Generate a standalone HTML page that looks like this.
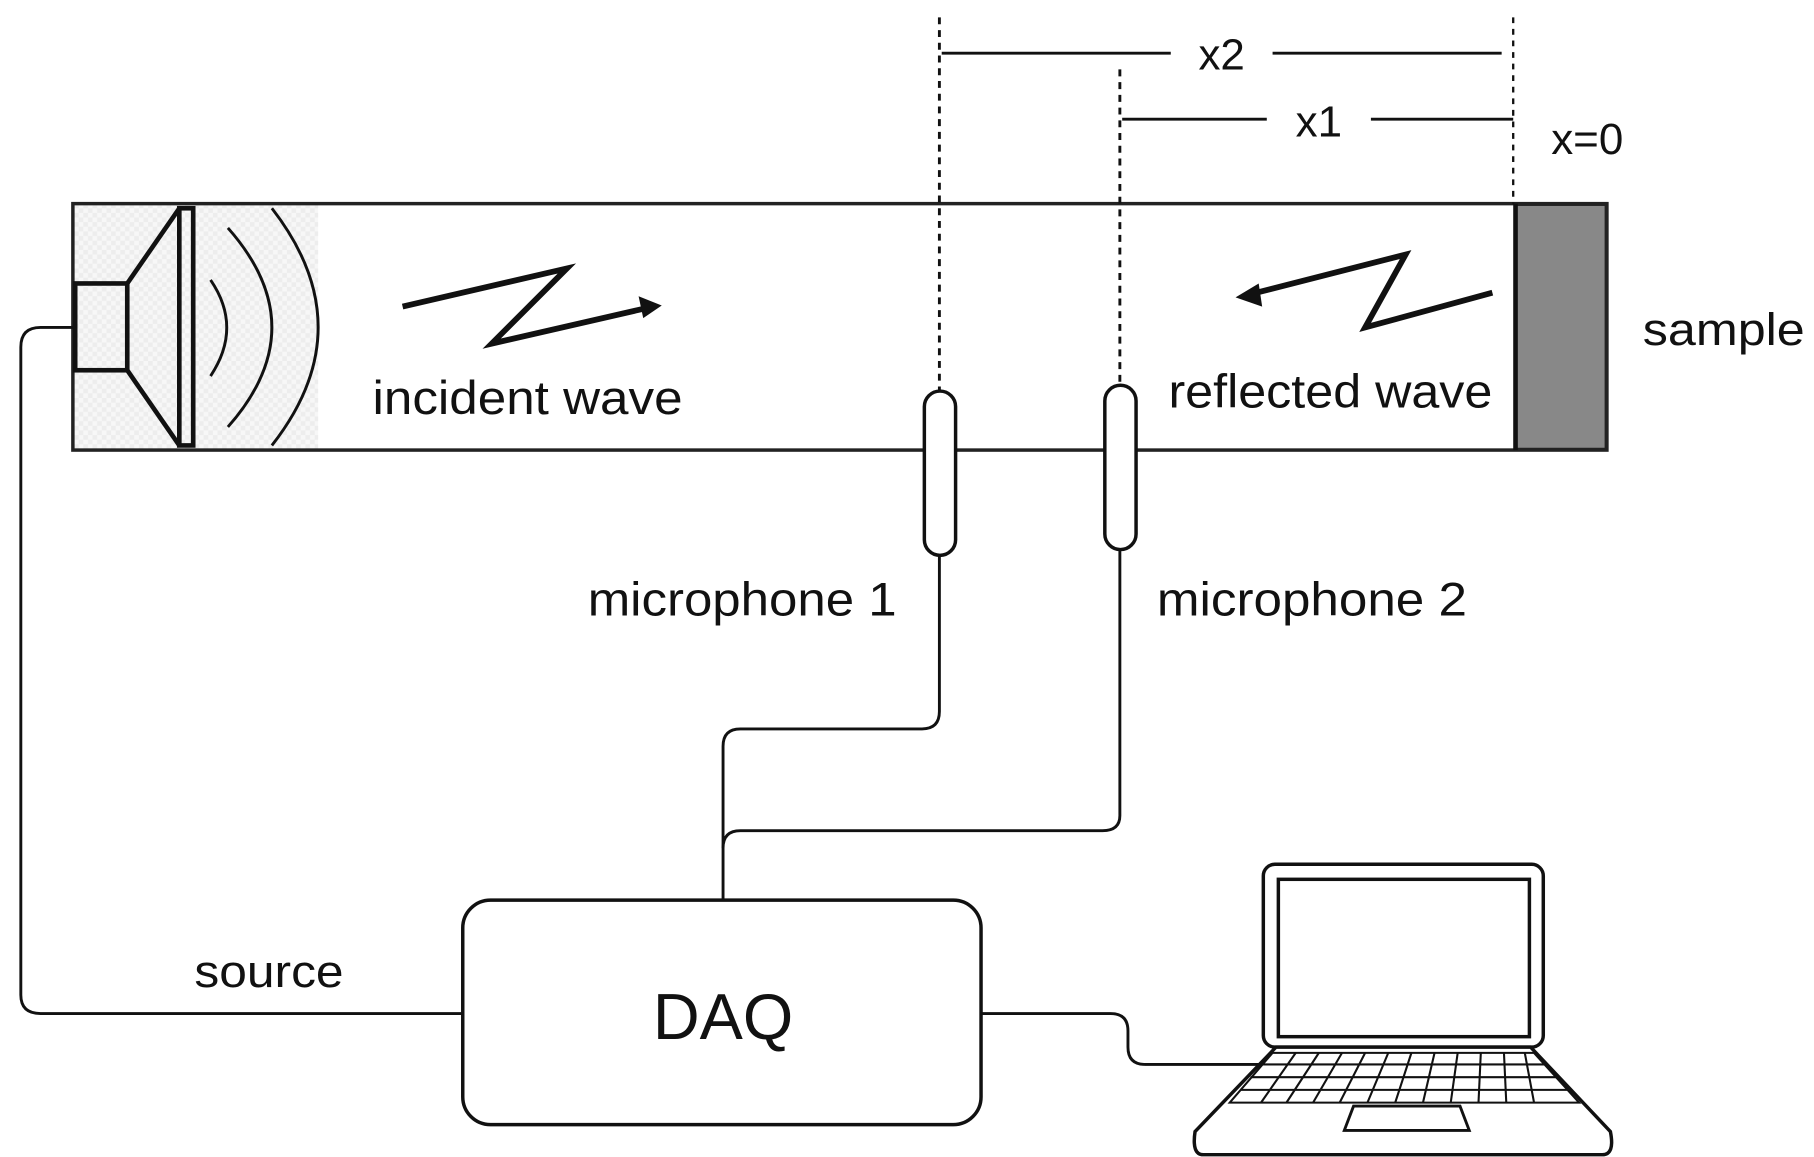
<!DOCTYPE html>
<html><head><meta charset="utf-8"><style>
html,body{margin:0;padding:0;background:#fff;}
svg{display:block;}
text{font-family:"Liberation Sans",sans-serif;fill:#111;}
</style></head><body>
<svg width="1814" height="1157" viewBox="0 0 1568 1000" preserveAspectRatio="none">
<defs>
<pattern id="chk" width="8" height="8" patternUnits="userSpaceOnUse">
<rect width="8" height="8" fill="#f7f7f7"/><rect width="4" height="4" fill="#ededed"/><rect x="4" y="4" width="4" height="4" fill="#ededed"/>
</pattern>
</defs>
<rect width="1568" height="1000" fill="#fff"/>
<rect x="64" y="177" width="211" height="211" fill="url(#chk)"/>
<rect x="63" y="176" width="1326" height="213" fill="none" stroke="#222" stroke-width="3"/>
<rect x="1310" y="177" width="78" height="211" fill="#888" stroke="#222" stroke-width="2"/>
<line x1="1310" y1="176" x2="1310" y2="389" stroke="#111" stroke-width="4"/>
<!-- speaker -->
<rect x="65" y="245" width="45" height="75" fill="none" stroke="#111" stroke-width="4"/>
<polyline points="110,245 155,180" fill="none" stroke="#111" stroke-width="4"/>
<polyline points="110,320 155,385" fill="none" stroke="#111" stroke-width="4"/>
<rect x="155" y="180" width="12" height="205" fill="none" stroke="#111" stroke-width="4"/>
<path d="M182,242 Q210,283 182,325" fill="none" stroke="#111" stroke-width="2.5"/>
<path d="M197,197 Q273,283 197,369" fill="none" stroke="#111" stroke-width="2.5"/>
<path d="M235,180 Q315,283 235,385" fill="none" stroke="#111" stroke-width="2.5"/>
<path d="M65,283 L35,283 Q18,283 18,300 L18,860 Q18,876 35,876 L400,876" fill="none" stroke="#111" stroke-width="2.5"/>
<line x1="812" y1="15" x2="812" y2="338" stroke="#111" stroke-width="2.5" stroke-dasharray="6,5"/>
<line x1="968" y1="60" x2="968" y2="333" stroke="#111" stroke-width="2.5" stroke-dasharray="6,5"/>
<line x1="1308" y1="15" x2="1308" y2="176" stroke="#111" stroke-width="2" stroke-dasharray="5,5"/>
<line x1="814" y1="46" x2="1012" y2="46" stroke="#111" stroke-width="2.5"/>
<line x1="1100" y1="46" x2="1298" y2="46" stroke="#111" stroke-width="2.5"/>
<text x="1056" y="60" font-size="38" text-anchor="middle">x2</text>
<line x1="970" y1="103" x2="1095" y2="103" stroke="#111" stroke-width="2.5"/>
<line x1="1185" y1="103" x2="1308" y2="103" stroke="#111" stroke-width="2.5"/>
<text x="1140" y="118" font-size="38" text-anchor="middle">x1</text>
<text x="1372" y="133" font-size="38" text-anchor="middle">x=0</text>
<polyline points="348,265 490,232 425,297 560,266" fill="none" stroke="#111" stroke-width="5"/>
<polygon points="572,264 552,256 556,275" fill="#111"/>
<polyline points="1290,253 1180,283 1215,220 1082,254" fill="none" stroke="#111" stroke-width="5"/>
<polygon points="1068,257 1088,245 1091,265" fill="#111"/>
<text x="322" y="358" font-size="41" textLength="268" lengthAdjust="spacingAndGlyphs">incident wave</text>
<text x="1010" y="352" font-size="41" textLength="280" lengthAdjust="spacingAndGlyphs">reflected wave</text>
<text x="1420" y="298" font-size="39" textLength="140" lengthAdjust="spacingAndGlyphs">sample</text>
<rect x="799" y="338" width="27" height="142" rx="13.5" fill="#fff" stroke="#111" stroke-width="3"/>
<rect x="955" y="333" width="27" height="142" rx="13.5" fill="#fff" stroke="#111" stroke-width="3"/>
<text x="508" y="532" font-size="41" textLength="267" lengthAdjust="spacingAndGlyphs">microphone 1</text>
<text x="1000" y="532" font-size="41" textLength="268" lengthAdjust="spacingAndGlyphs">microphone 2</text>
<path d="M812,480 L812,615 Q812,630 797,630 L640,630 Q625,630 625,645 L625,778" fill="none" stroke="#111" stroke-width="2.5"/>
<path d="M968,475 L968,705 Q968,718 953,718 L640,718 Q625,718 625,733" fill="none" stroke="#111" stroke-width="2.5"/>
<text x="168" y="853" font-size="39" textLength="129" lengthAdjust="spacingAndGlyphs">source</text>
<rect x="400" y="778" width="448" height="194" rx="24" fill="#fff" stroke="#111" stroke-width="3"/>
<text x="625" y="898" font-size="56" text-anchor="middle">DAQ</text>
<path d="M848,876 L960,876 Q975,876 975,891 L975,905 Q975,920 990,920 L1095,920" fill="none" stroke="#111" stroke-width="2.5"/>
<!-- laptop -->
<rect x="1092" y="747" width="242" height="158" rx="10" fill="#fff" stroke="#111" stroke-width="3"/>
<rect x="1105" y="760" width="217" height="136" fill="#fff" stroke="#111" stroke-width="3"/>
<path d="M1103,905 L1323,905 L1392,978 Q1396,998 1385,998 L1040,998 Q1030,998 1033,978 Z" fill="#fff" stroke="#111" stroke-width="3"/>
<g stroke="#111" stroke-width="1.8" fill="none">
<path d="M1100,910 L1326,910 L1365,953 L1063,953 Z"/>
<line x1="1091" y1="920" x2="1335" y2="920"/>
<line x1="1081" y1="931" x2="1345" y2="931"/>
<line x1="1072" y1="942" x2="1355" y2="942"/>
<line x1="1120" y1="910" x2="1090" y2="953"/><line x1="1140" y1="910" x2="1112" y2="953"/>
<line x1="1160" y1="910" x2="1135" y2="953"/><line x1="1180" y1="910" x2="1158" y2="953"/>
<line x1="1200" y1="910" x2="1182" y2="953"/><line x1="1220" y1="910" x2="1206" y2="953"/>
<line x1="1240" y1="910" x2="1230" y2="953"/><line x1="1260" y1="910" x2="1254" y2="953"/>
<line x1="1280" y1="910" x2="1278" y2="953"/><line x1="1300" y1="910" x2="1302" y2="953"/>
<line x1="1318" y1="910" x2="1326" y2="953"/>
</g>
<path d="M1170,956 L1262,956 L1270,977 L1162,977 Z" fill="#fff" stroke="#111" stroke-width="2.5"/>
</svg>
</body></html>
